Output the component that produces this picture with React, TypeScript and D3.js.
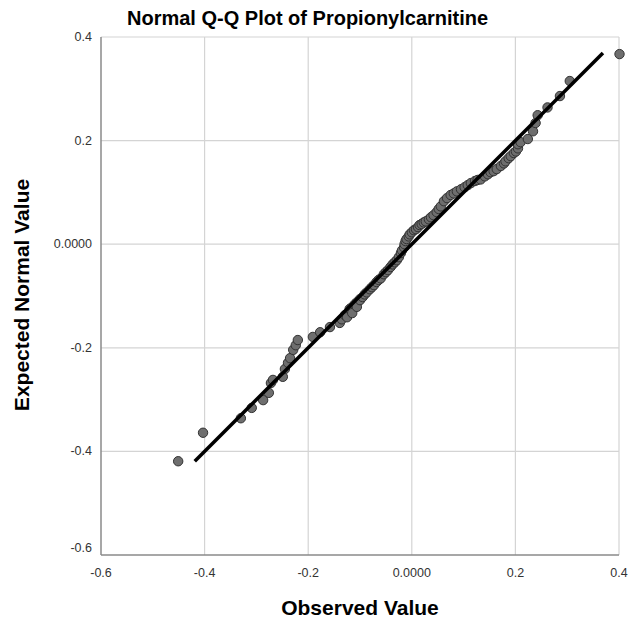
import { useEffect, useRef } from "react";
import * as d3 from "d3";

const observed = [
  -0.451, -0.403, -0.330, -0.309, -0.287, -0.276, -0.272, -0.268, -0.249, -0.245,
  -0.239, -0.235, -0.229, -0.224, -0.220, -0.191, -0.177, -0.158, -0.139, -0.135,
  -0.129, -0.125, -0.120, -0.116, -0.115, -0.110, -0.106, -0.106, -0.100, -0.100,
  -0.095, -0.091, -0.087, -0.081, -0.077, -0.073, -0.068, -0.064, -0.060, -0.054,
  -0.050, -0.046, -0.041, -0.037, -0.033, -0.029, -0.025, -0.021, -0.019, -0.015,
  -0.014, -0.012, -0.010, -0.006, -0.004, 0.000, 0.004, 0.008, 0.012, 0.015,
  0.019, 0.023, 0.027, 0.033, 0.037, 0.042, 0.048, 0.052, 0.056, 0.062,
  0.068, 0.075, 0.081, 0.087, 0.095, 0.102, 0.108, 0.114, 0.122, 0.127,
  0.133, 0.141, 0.147, 0.152, 0.158, 0.164, 0.172, 0.178, 0.181, 0.187,
  0.191, 0.197, 0.201, 0.205, 0.205, 0.210, 0.224, 0.234, 0.239, 0.243,
  0.262, 0.286, 0.305, 0.401,
];
const expected = [
  -0.419, -0.364, -0.336, -0.316, -0.301, -0.287, -0.268, -0.262, -0.256, -0.241,
  -0.229, -0.220, -0.204, -0.195, -0.185, -0.179, -0.170, -0.160, -0.152, -0.145,
  -0.137, -0.141, -0.125, -0.122, -0.133, -0.116, -0.112, -0.121, -0.106, -0.108,
  -0.102, -0.097, -0.093, -0.087, -0.083, -0.079, -0.073, -0.069, -0.066, -0.058,
  -0.054, -0.050, -0.044, -0.039, -0.035, -0.031, -0.025, -0.017, -0.012, -0.006,
  0.000, 0.006, 0.010, 0.015, 0.019, 0.023, 0.027, 0.029, 0.033, 0.037,
  0.039, 0.042, 0.044, 0.048, 0.052, 0.056, 0.062, 0.068, 0.073, 0.083,
  0.089, 0.095, 0.098, 0.102, 0.106, 0.110, 0.114, 0.118, 0.122, 0.124,
  0.125, 0.131, 0.135, 0.139, 0.141, 0.145, 0.151, 0.156, 0.160, 0.166,
  0.170, 0.176, 0.179, 0.185, 0.193, 0.197, 0.203, 0.218, 0.234, 0.249,
  0.264, 0.286, 0.315, 0.367,
];
const refLine = [-0.419, 0.369];
const ticks = [-0.6, -0.4, -0.2, 0, 0.2, 0.4];
const tickLabels = ["-0.6", "-0.4", "-0.2", "0.0000", "0.2", "0.4"];

const W = 631;
const H = 624;
const font = "'Liberation Sans', Arial, sans-serif";

export default function App() {
  const ref = useRef<SVGSVGElement>(null);

  useEffect(() => {
    if (!ref.current) return;
    const svg = d3.select(ref.current);
    svg.selectAll("*").remove();

    const x = d3.scaleLinear().domain([-0.6, 0.4]).range([101, 619]);
    const y = d3.scaleLinear().domain([-0.6, 0.4]).range([555, 37]);

    // grid
    const grid = svg.append("g");
    grid.selectAll(".gx").data(ticks.slice(1)).enter().append("line")
      .attr("x1", d => x(d)).attr("x2", d => x(d))
      .attr("y1", y(0.4)).attr("y2", y(-0.6))
      .attr("stroke", "#d4d4d4").attr("stroke-width", 1.2);
    grid.selectAll(".gy").data(ticks.slice(1)).enter().append("line")
      .attr("y1", d => y(d)).attr("y2", d => y(d))
      .attr("x1", x(-0.6)).attr("x2", x(0.4))
      .attr("stroke", "#d4d4d4").attr("stroke-width", 1.2);

    // axis lines
    svg.append("line").attr("x1", x(-0.6)).attr("x2", x(-0.6))
      .attr("y1", y(0.4)).attr("y2", y(-0.6)).attr("stroke", "#8a8a8a").attr("stroke-width", 1.5);
    svg.append("line").attr("x1", x(-0.6)).attr("x2", x(0.4))
      .attr("y1", y(-0.6)).attr("y2", y(-0.6)).attr("stroke", "#8a8a8a").attr("stroke-width", 1.5);

    // tick labels
    svg.selectAll(".ty").data(ticks).enter().append("text")
      .attr("x", 92).attr("y", d => y(d) + (d === -0.6 ? -3 : 4))
      .attr("text-anchor", "end")
      .style("font-family", font).style("font-size", "12.5px").style("fill", "#333")
      .text((d, i) => tickLabels[i]);
    svg.selectAll(".tx").data(ticks).enter().append("text")
      .attr("x", d => x(d)).attr("y", 577)
      .attr("text-anchor", "middle")
      .style("font-family", font).style("font-size", "12.5px").style("fill", "#333")
      .text((d, i) => tickLabels[i]);

    // points
    const pts = observed.map((o, i) => [o, expected[i]] as [number, number]);
    svg.append("g").selectAll("circle").data(pts).enter().append("circle")
      .attr("cx", d => x(d[0])).attr("cy", d => y(d[1])).attr("r", 4.7)
      .attr("fill", "#6e6e6e").attr("stroke", "#333").attr("stroke-width", 1);

    // reference line
    svg.append("line")
      .attr("x1", x(refLine[0])).attr("y1", y(refLine[0]))
      .attr("x2", x(refLine[1])).attr("y2", y(refLine[1]))
      .attr("stroke", "#000").attr("stroke-width", 3.5);

    // titles
    svg.append("text").attr("x", 127).attr("y", 25)
      .style("font-family", font).style("font-size", "20px").style("font-weight", "bold")
      .text("Normal Q-Q Plot of Propionylcarnitine");
    svg.append("text").attr("x", 360).attr("y", 615).attr("text-anchor", "middle")
      .style("font-family", font).style("font-size", "21px").style("font-weight", "bold")
      .text("Observed Value");
    svg.append("text").attr("transform", "translate(29,295) rotate(-90)").attr("text-anchor", "middle")
      .style("font-family", font).style("font-size", "21px").style("font-weight", "bold")
      .text("Expected Normal Value");
  }, []);

  return (
    <div style={{ position: "absolute", left: 0, top: 0 }}>
      <svg ref={ref} width={W} height={H} viewBox={`0 0 ${W} ${H}`} style={{ display: "block", background: "#fff" }} />
    </div>
  );
}
